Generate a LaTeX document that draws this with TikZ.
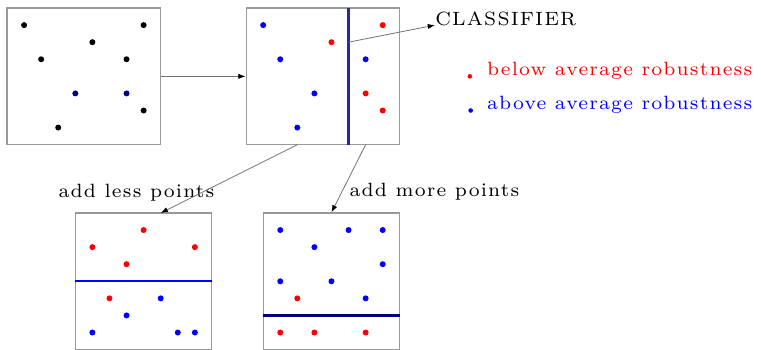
\documentclass[tikz,border=0pt]{standalone}
\usepackage{fontspec}
\usetikzlibrary{arrows.meta}
\definecolor{navyA}{rgb}{0.16,0.16,0.62}
\definecolor{navyB}{rgb}{0.0,0.0,0.5}
\newfontfamily\lsfont{lmroman7-regular.otf}[LetterSpace=6]
\newcommand\lstext{\lsfont\fontsize{9.6}{11}\selectfont}
\tikzset{
  panel/.style={draw=black!40, line width=0.55pt, minimum height=2.4cm, inner sep=0pt},
  wide/.style={minimum width=2.7cm},
  narrow/.style={minimum width=2.4cm},
  conn/.style={draw=black!55, line width=0.4pt, -{Latex[length=3.6pt,width=2.6pt,color=black]}},
  lbl/.style={anchor=base west, inner sep=0pt, font=\lstext},
  bp/.style={fill=black},
  np/.style={fill=navyB},
  rp/.style={fill=red},
  up/.style={fill=blue}
}
\begin{document}
\begin{tikzpicture}[x=0.3cm,y=-0.3cm]
\useasboundingbox (-0.41,-0.47) rectangle (44.15,20.02);
% panels
\node[panel,wide]   (b1) at (4.5,4) {};
\node[panel,wide]   (b2) at (18.5,4) {};
\node[panel,narrow] (b3) at (8,16) {};
\node[panel,narrow] (b4) at (19,16) {};
% separators
\draw[navyA, line width=1.3pt] (20,0) -- (20,8);
\draw[blue, line width=1pt] (4,16) -- (12,16);
\draw[navyB, line width=1.2pt] (15,18) -- (23,18);
% points panel 1
\foreach \p in {(1,1),(8,1),(5,2),(2,3),(7,3),(8,6),(3,7)} \fill[bp] \p circle (1.5pt);
\foreach \p in {(4,5),(7,5)} \fill[np] \p circle (1.5pt);
% points panel 2
\foreach \p in {(15,1),(16,3),(21,3),(18,5),(17,7)} \fill[up] \p circle (1.5pt);
\foreach \p in {(22,1),(19,2),(21,5),(22,6)} \fill[rp] \p circle (1.5pt);
% points panel 3
\foreach \p in {(8,13),(5,14),(11,14),(7,15),(6,17)} \fill[rp] \p circle (1.5pt);
\foreach \p in {(9,17),(7,18),(5,19),(10,19),(11,19)} \fill[up] \p circle (1.5pt);
% points panel 4
\foreach \p in {(16,13),(20,13),(22,13),(18,14),(22,15),(16,16),(19,16),(21,17)} \fill[up] \p circle (1.5pt);
\foreach \p in {(17,17),(16,19),(18,19),(21,19)} \fill[rp] \p circle (1.5pt);
% labels
\node[lbl] (cls) at (25.06,1) {CLASSIFIER};
\node[lbl] (less) at (3.0,11.07) {add less points};
\node[lbl] (more) at (20.04,11.02) {add more points};
\node[lbl, text=red]  (lr) at (28.09,3.96) {below average robustness};
\node[lbl, text=blue] (lb) at (28.09,5.93) {above average robustness};
\fill[red]  (27.1,4) circle (1.15pt);
\fill[blue] (27.15,6) circle (1.15pt);
% connectors
\coordinate (c0) at (20,2);
\coordinate (s1) at (17,8);
\coordinate (s2) at (21,8);
\coordinate (t1) at (9,12);
\draw[conn] (b1.east) -- (b2.west);
\draw[conn] (c0) -- (cls.base west);
\draw[conn] (s1) -- (t1);
\draw[conn] (s2) -- (b4.north);
\end{tikzpicture}
\end{document}
